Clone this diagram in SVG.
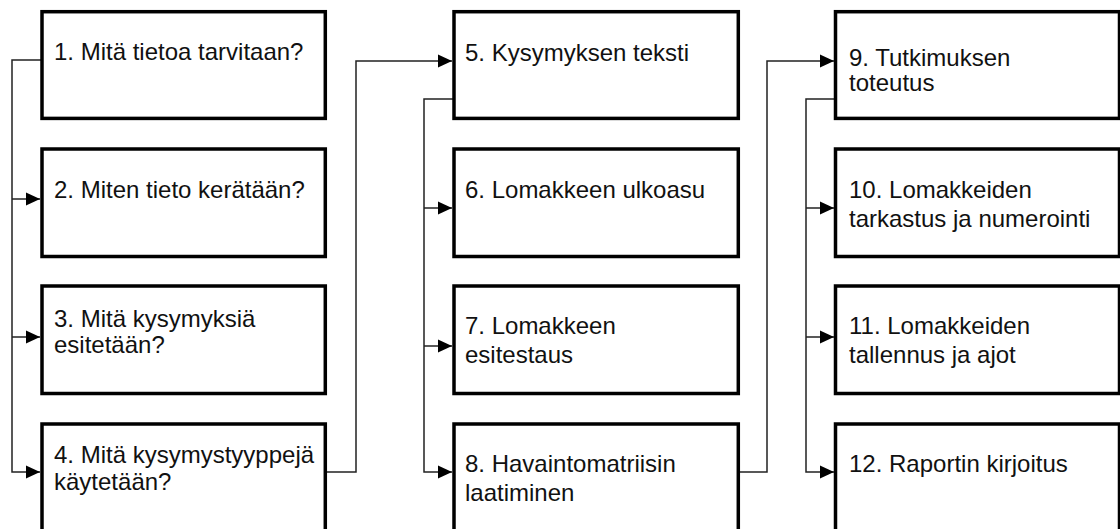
<svg xmlns="http://www.w3.org/2000/svg" width="1120" height="529" viewBox="0 0 1120 529">
<style>
.box{fill:#fff;stroke:#000;stroke-width:3.5}
.lbl{font-family:"Liberation Sans",Arial,sans-serif;font-size:24px;fill:#111}
.con{fill:none;stroke:#222;stroke-width:1.5}
</style>
<defs>
<marker id="ah" markerUnits="userSpaceOnUse" markerWidth="14" markerHeight="14" refX="14" refY="7" orient="auto">
<path d="M0,0.5 L14,7 L0,13.5 z" fill="#000"/>
</marker>
</defs>
<rect width="1120" height="529" fill="#fff"/>
<g id="connectors">
<path class="con" d="M42,60 H12 V472 H40" marker-end="url(#ah)"/>
<path class="con" d="M12,199 H40" marker-end="url(#ah)"/>
<path class="con" d="M12,337 H40" marker-end="url(#ah)"/>
<path class="con" d="M325,472 H356 V61 H452" marker-end="url(#ah)"/>
<path class="con" d="M454,99 H424 V472 H452" marker-end="url(#ah)"/>
<path class="con" d="M424,208 H452" marker-end="url(#ah)"/>
<path class="con" d="M424,346 H452" marker-end="url(#ah)"/>
<path class="con" d="M738,472 H767 V61 H834" marker-end="url(#ah)"/>
<path class="con" d="M836,99 H806 V472 H834" marker-end="url(#ah)"/>
<path class="con" d="M806,208 H834" marker-end="url(#ah)"/>
<path class="con" d="M806,337 H834" marker-end="url(#ah)"/>
</g>
<g id="n1"><rect class="box" x="42" y="11.7" width="283.3" height="106.7"/><text class="lbl" x="54" y="60">1. Mitä tietoa tarvitaan?</text></g>
<g id="n2"><rect class="box" x="42" y="149" width="283.3" height="107.5"/><text class="lbl" x="54" y="198">2. Miten tieto kerätään?</text></g>
<g id="n3"><rect class="box" x="42" y="286" width="283.3" height="107.5"/><text class="lbl" x="54" y="327">3. Mitä kysymyksiä</text><text class="lbl" x="54" y="353">esitetään?</text></g>
<g id="n4"><rect class="box" x="42" y="424" width="283.3" height="107.5"/><text class="lbl" x="54" y="463">4. Mitä kysymystyyppejä</text><text class="lbl" x="54" y="490">käytetään?</text></g>
<g id="n5"><rect class="box" x="454" y="11.7" width="284.3" height="106.7"/><text class="lbl" x="465" y="61">5. Kysymyksen teksti</text></g>
<g id="n6"><rect class="box" x="454" y="149" width="284.3" height="107.5"/><text class="lbl" x="465" y="198">6. Lomakkeen ulkoasu</text></g>
<g id="n7"><rect class="box" x="454" y="286" width="284.3" height="107.5"/><text class="lbl" x="465" y="334">7. Lomakkeen</text><text class="lbl" x="465" y="363">esitestaus</text></g>
<g id="n8"><rect class="box" x="454" y="424" width="284.3" height="107.5"/><text class="lbl" x="465" y="472">8. Havaintomatriisin</text><text class="lbl" x="465" y="501">laatiminen</text></g>
<g id="n9"><rect class="box" x="835.5" y="11.7" width="284" height="106.7"/><text class="lbl" x="849" y="66">9. Tutkimuksen</text><text class="lbl" x="849" y="91">toteutus</text></g>
<g id="n10"><rect class="box" x="835.5" y="149" width="284" height="107.5"/><text class="lbl" x="849" y="198">10. Lomakkeiden</text><text class="lbl" x="849" y="227">tarkastus ja numerointi</text></g>
<g id="n11"><rect class="box" x="835.5" y="286" width="284" height="107.5"/><text class="lbl" x="849" y="334">11. Lomakkeiden</text><text class="lbl" x="849" y="363">tallennus ja ajot</text></g>
<g id="n12"><rect class="box" x="835.5" y="424" width="284" height="107.5"/><text class="lbl" x="849" y="472">12. Raportin kirjoitus</text></g>
</svg>
